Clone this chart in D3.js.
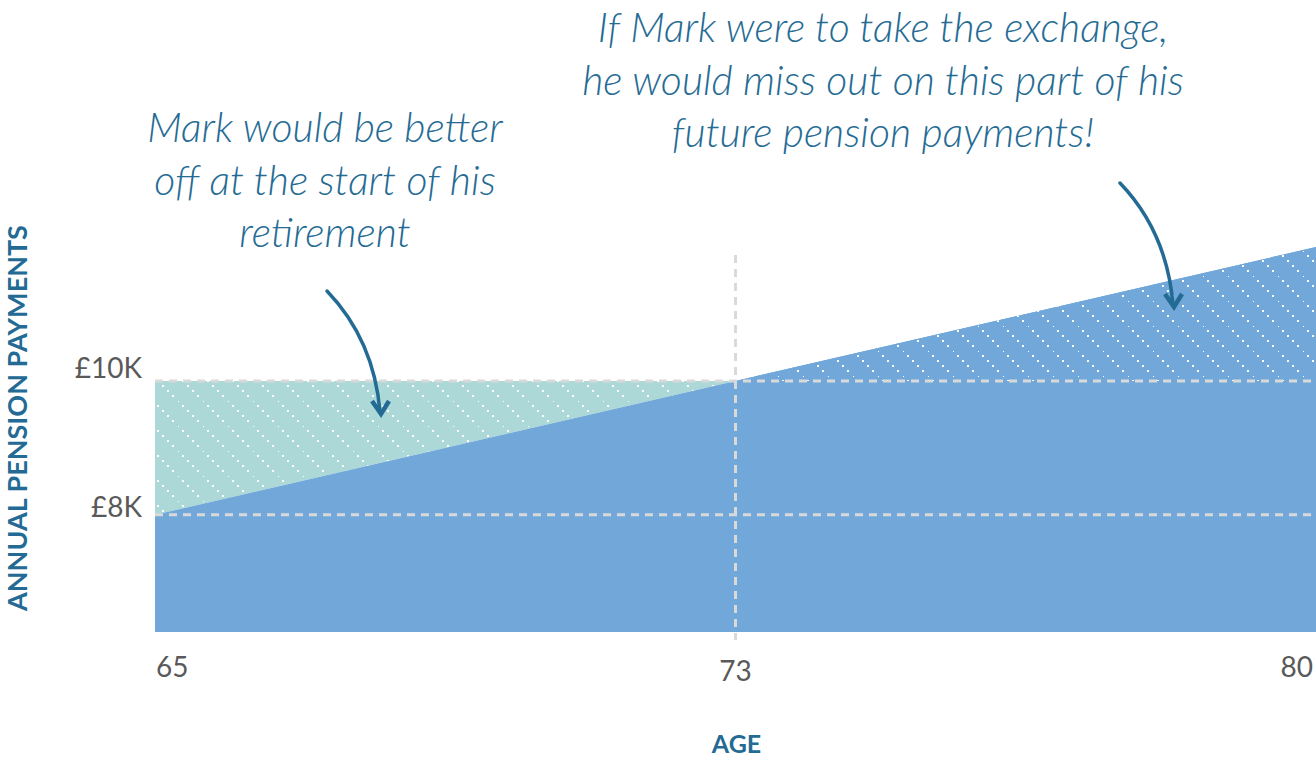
<!DOCTYPE html>
<html>
<head>
<meta charset="utf-8">
<script src="https://cdn.jsdelivr.net/npm/d3@7"></script>
<style>
  body { margin: 0; background: #fff; }
  svg { display: block; }
  .tick-label { font-family: Lato, "Open Sans", sans-serif; font-size: 28px; fill: #595959; }
  .axis-title { font-family: Lato, "Open Sans", sans-serif; font-weight: 700; fill: #236a94; }
  .note { font-family: Lato, "Open Sans", sans-serif; font-style: italic; font-weight: 300; font-size: 41px; fill: #256b94; }
</style>
</head>
<body>
<script>
// ages on the x axis (evenly spaced in the picture)
const ages = ["65", "73", "80"];
// pension paid each year, in £ thousands
const escalatingPension = [8, 10, 12];
const exchangePension = [10, 10, 10];
const yTicks = [8, 10];
const yBase = 6.25;

const noteLeft = ["Mark would be better", "off at the start of his", "retirement"];
const noteRight = ["If Mark were to take the exchange,", "he would miss out on this part of his", "future pension payments!"];

const width = 1316, height = 760;
const blue = "#71a7d9", teal = "#acd9d7", dash = "#d9d9d9", ink = "#236a94";

const svg = d3.select("body").append("svg")
  .attr("width", width)
  .attr("height", height);

const x = d3.scalePoint().domain(ages).range([155, 1316]);
const y = d3.scaleLinear().domain([yBase, 12]).range([632, 247]);

// dotted diagonal hatch
const defs = svg.append("defs");
function hatch(id, bg) {
  const p = defs.append("pattern")
    .attr("id", id)
    .attr("patternUnits", "userSpaceOnUse")
    .attr("width", 25)
    .attr("height", 25)
    .attr("x", 3)
    .attr("y", 1);
  p.append("rect").attr("width", 25).attr("height", 25).attr("fill", bg);
  for (let i = 0; i < 5; i++)
    p.append("rect")
      .attr("x", i * 5 - 1).attr("y", i * 5 - 1)
      .attr("width", 2).attr("height", 2)
      .attr("fill", "#fff");
}
hatch("hatch-teal", teal);
hatch("hatch-blue", blue);

const rows = ages.map((a, i) => ({ age: a, esc: escalatingPension[i], exch: exchangePension[i] }));

// teal gap: exchange pays more than escalating
const early = rows.slice(0, 2);
svg.append("path")
  .datum(early)
  .attr("fill", "url(#hatch-teal)")
  .attr("d", d3.area()
    .x(d => x(d.age))
    .y0(d => y(d.esc))
    .y1(d => y(d.exch)));

// escalating pension, solid
svg.append("path")
  .datum(rows)
  .attr("fill", blue)
  .attr("d", d3.area()
    .x(d => x(d.age))
    .y0(y(yBase))
    .y1(d => y(d.esc)));

// part missed after 73, hatched
const late = rows.slice(1);
svg.append("path")
  .datum(late)
  .attr("fill", "url(#hatch-blue)")
  .attr("d", d3.area()
    .x(d => x(d.age))
    .y0(d => y(d.exch))
    .y1(d => y(d.esc)));

// dashed guides
svg.selectAll("line.guide")
  .data(yTicks)
  .join("line")
  .attr("class", "guide")
  .attr("x1", x(ages[0]))
  .attr("x2", x(ages[2]))
  .attr("y1", d => y(d))
  .attr("y2", d => y(d))
  .attr("stroke", dash)
  .attr("stroke-width", 3)
  .attr("stroke-dasharray", "8,6");

svg.append("line")
  .attr("x1", x(ages[1])).attr("x2", x(ages[1]))
  .attr("y1", 255).attr("y2", 640)
  .attr("stroke", dash)
  .attr("stroke-width", 3)
  .attr("stroke-dasharray", "8,6");

// y tick labels
const yLabelShift = [2, -3];
svg.selectAll("text.ytick")
  .data(yTicks)
  .join("text")
  .attr("class", "tick-label ytick")
  .attr("x", 142)
  .attr("y", (d, i) => y(d) + yLabelShift[i])
  .attr("text-anchor", "end")
  .text(d => "£" + d + "K");

// x tick labels
const xAnchor = ["start", "middle", "end"];
svg.selectAll("text.xtick")
  .data(ages)
  .join("text")
  .attr("class", "tick-label xtick")
  .attr("x", (d, i) => x(d) + (i === 2 ? -3 : i === 1 ? 0 : 1))
  .attr("y", (d, i) => i === 1 ? 681 : 677)
  .attr("text-anchor", (d, i) => xAnchor[i])
  .text(d => d);

// axis titles
svg.append("text")
  .attr("class", "axis-title")
  .attr("x", x(ages[1]) + 1)
  .attr("y", 753)
  .attr("font-size", 25)
  .attr("text-anchor", "middle")
  .text("AGE");

svg.append("text")
  .attr("class", "axis-title")
  .attr("font-size", 27)
  .attr("transform", "translate(27,418) rotate(-90)")
  .attr("text-anchor", "middle")
  .text("ANNUAL PENSION PAYMENTS");

// notes
function note(lines, cx, top) {
  svg.append("g").selectAll("text")
    .data(lines)
    .join("text")
    .attr("class", "note")
    .attr("x", cx)
    .attr("y", (d, i) => top + i * 52.5)
    .attr("text-anchor", "middle")
    .text(d => d);
}
note(noteLeft, 325, 142);
note(noteRight, 883, 42);

// arrows
function arrow(x0, y0, cx, cy, x1, y1) {
  const p = d3.path();
  p.moveTo(x0, y0);
  p.quadraticCurveTo(cx, cy, x1, y1);
  svg.append("path")
    .attr("d", p.toString())
    .attr("fill", "none")
    .attr("stroke", ink)
    .attr("stroke-width", 3.5)
    .attr("stroke-linecap", "round");
  const head = d3.path();
  head.moveTo(x1 - 8, y1 - 11);
  head.lineTo(x1 + 1, y1 + 2);
  head.lineTo(x1 + 9, y1 - 11);
  svg.append("path")
    .attr("d", head.toString())
    .attr("fill", "none")
    .attr("stroke", ink)
    .attr("stroke-width", 4.5)
    .attr("stroke-linejoin", "miter");
}
arrow(327, 291, 374, 340, 380, 412);
arrow(1120, 183, 1167, 232, 1173, 305);
</script>
</body>
</html>
